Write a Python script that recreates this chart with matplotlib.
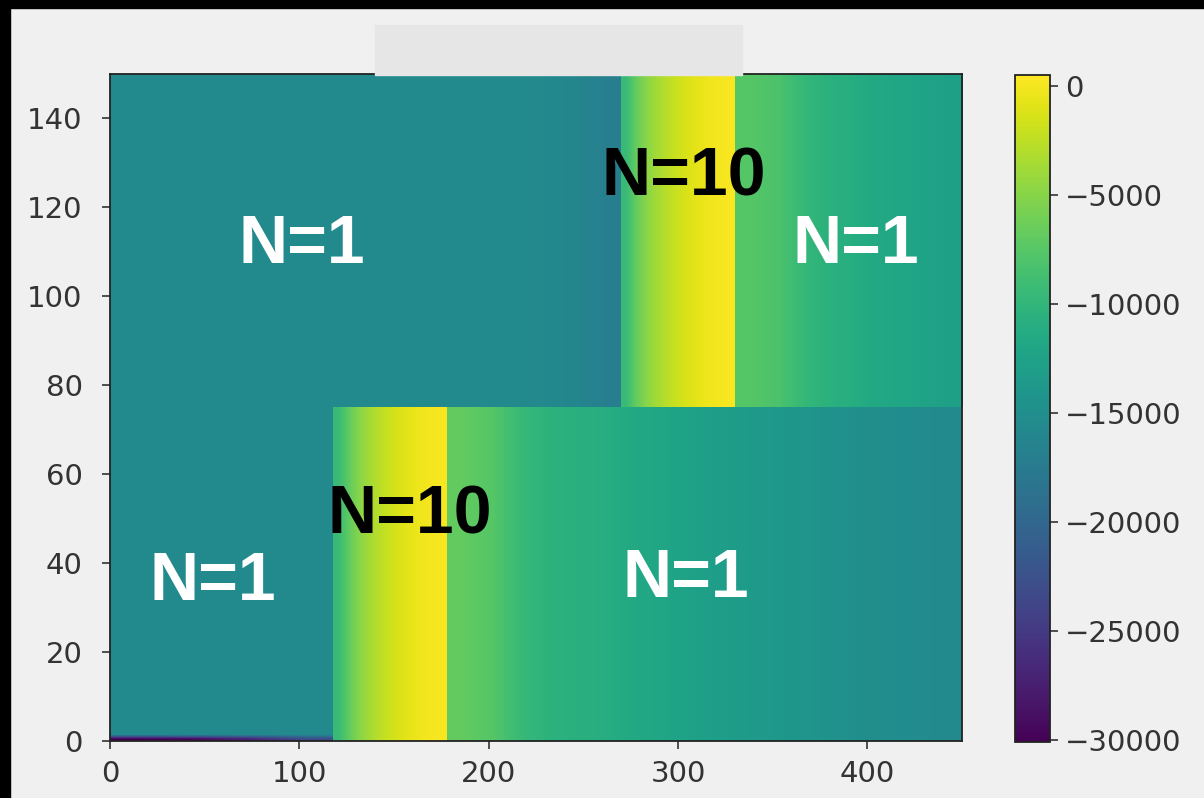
import numpy as np
import matplotlib.pyplot as plt
from matplotlib.colors import Normalize
from matplotlib.cm import ScalarMappable
from matplotlib.patches import Rectangle

# column profiles of the field, each list sampled evenly across its stretch of x
# lower half (rows 0..75)
lower_flat = [-15500, -15500, -15500, -15600]          # x 0..118
lower_floor = [-30000, -29500, -27000, -23000]         # first row, x 0..118
lower_ramp = [-9500, -7400, -5400, -4100, -3000, -2200,
              -1500, -900, -450, -150, 50, 250]       # x 118..178
lower_tail = [-6900, -7600, -9600, -10500, -10800, -11200, -11800, -12300,
              -12800, -13200, -13600, -14000, -14400, -14800, -15100,
              -15300, -15500]                          # x 178..450
# upper half (rows 75..150)
upper_flat = [-15500, -15500, -15500, -15500, -15500, -15500, -15500, -15500,
              -15500, -15500, -15500, -15500, -15500, -15600, -15600,
              -15800, -16200, -17000]                  # x 0..270
upper_ramp = [-9500, -7000, -5200, -4000, -3000, -2200,
              -1500, -900, -450, -150, 50, 250]       # x 270..330
upper_tail = [-7600, -8100, -9800, -10700, -11300, -11900, -12300, -12700]  # x 330..450

lower_edges = [0, 118, 178, 450]
upper_edges = [0, 270, 330, 450]

labels = ['N=1', 'N=10', 'N=1', 'N=1', 'N=10', 'N=1']
label_x = [101.4, 303.2, 394.0, 54.4, 158.5, 304.3]
label_y = [107.4, 122.7, 107.4, 31.7, 46.7, 32.4]
label_col = ['white', 'black', 'white', 'white', 'black', 'white']

xticks = [0, 100, 200, 300, 400]
yticks = [0, 20, 40, 60, 80, 100, 120, 140]
cbar_ticks = [0, -5000, -10000, -15000, -20000, -25000, -30000]

vmin, vmax = -30100, 500
norm = Normalize(vmin, vmax)
cmap = 'viridis'
bg = '#f0f0f0'
tc = '#333333'

fig = plt.figure(figsize=(12.04, 7.98), dpi=100, facecolor=bg)
ax = fig.add_axes([110 / 1204, 1 - 741 / 798, 852 / 1204, 667 / 798])

lower_blocks = [np.vstack([lower_floor, np.tile(lower_flat, (74, 1))]),
                np.atleast_2d(lower_ramp), np.atleast_2d(lower_tail)]
upper_blocks = [np.atleast_2d(upper_flat), np.atleast_2d(upper_ramp),
                np.atleast_2d(upper_tail)]

for i, blk in enumerate(lower_blocks):
    ax.imshow(blk, extent=(lower_edges[i], lower_edges[i + 1], 0, 75),
              origin='lower', cmap=cmap, norm=norm, aspect='auto',
              interpolation='bilinear')
for i, blk in enumerate(upper_blocks):
    ax.imshow(blk, extent=(upper_edges[i], upper_edges[i + 1], 75, 150),
              origin='lower', cmap=cmap, norm=norm, aspect='auto',
              interpolation='bilinear')

ax.set_xlim(0, 450)
ax.set_ylim(0, 150)
ax.set_xticks(xticks)
ax.set_yticks(yticks)
ax.tick_params(axis='both', length=5.8, width=1.2, colors=tc, labelsize=21)
ax.tick_params(axis='y', pad=14)
ax.tick_params(axis='x', pad=8)
for s in ax.spines.values():
    s.set_linewidth(1.3)
    s.set_color('#222222')

for t, x, y, c in zip(labels, label_x, label_y, label_col):
    ax.text(x, y, t, color=c, fontsize=49, fontweight='bold',
            family='Liberation Sans', ha='center', va='baseline')

cax = fig.add_axes([1015 / 1204, 1 - 742 / 798, 35 / 1204, 667 / 798])
cb = fig.colorbar(ScalarMappable(norm=norm, cmap=cmap), cax=cax)
cb.set_ticks(cbar_ticks)
cb.outline.set_linewidth(1.3)
cb.outline.set_edgecolor('#222222')
cax.tick_params(length=5.8, width=1.2, colors=tc, labelsize=21, pad=5)

# window chrome around the plot
fig.patches.append(Rectangle((375 / 1204, 1 - 75 / 798), 367 / 1204, 50 / 798,
                             transform=fig.transFigure, color='#e6e6e6', zorder=0))
fig.patches.append(Rectangle((0, 1 - 8 / 798), 1, 8 / 798,
                             transform=fig.transFigure, color='black', zorder=10))
fig.patches.append(Rectangle((0, 0), 10 / 1204, 1,
                             transform=fig.transFigure, color='black', zorder=10))

fig.savefig('out.png', dpi=100, facecolor=bg)
